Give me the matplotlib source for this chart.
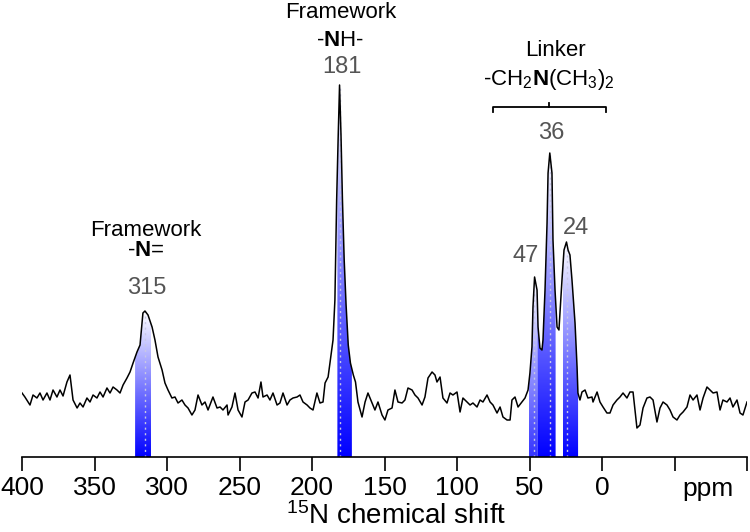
import numpy as np
import matplotlib
matplotlib.use("Agg")
import matplotlib.pyplot as plt
from matplotlib.patches import Polygon
from matplotlib.colors import LinearSegmentedColormap

plt.rcParams["font.family"] = ["Liberation Sans", "DejaVu Sans"]
plt.rcParams["mathtext.fontset"] = "custom"
plt.rcParams["mathtext.rm"] = "Liberation Sans"
plt.rcParams["mathtext.bf"] = "Liberation Sans:bold"
plt.rcParams["mathtext.it"] = "Liberation Sans:italic"

# 15N spectrum (ppm, arbitrary intensity)
shift = [
    400, 398, 394.5, 392.4, 389.7, 387.6, 385.5, 382.8, 380.7, 378.6,
    375.9, 373.8, 371.7, 369, 366.9, 364.8, 362, 360, 357.9, 355.2,
    353.1, 351, 348.3, 346.2, 344.1, 341.4, 339.3, 337.2, 334.5, 332.4,
    330.3, 327.6, 325.5, 323.4, 320.7, 318.6, 316.6, 315.2, 313.1, 310.3,
    308.3, 306.2, 303.4, 301.4, 299.3, 296.6, 294.5, 292.4, 289.7, 287.6,
    285.5, 282.8, 280.7, 278.6, 275.9, 273.8, 271.7, 268.3, 265.5, 263.4,
    261.4, 258.6, 257.9, 255.2, 253.1, 251, 248.3, 246.2, 244.1, 241.4,
    239.3, 237.2, 235.2, 233.8, 231, 229, 226.9, 224.1, 222.1, 220,
    217.2, 215.2, 213.1, 210.3, 208.3, 206.2, 203.4, 201.4, 199.3, 196.6,
    194.5, 192.4, 191, 188.9, 187.6, 185.5, 184.2, 183, 182, 181,
    180, 179, 177.8, 176.5, 175, 173.5, 171.5, 170, 168.3, 165.5,
    163.4, 161.4, 158.6, 156.6, 154.5, 151.7, 149.7, 147.6, 144.8, 142.8,
    140.7, 137.9, 135.9, 133.8, 131, 129, 126.9, 124.1, 122.1, 120,
    117.2, 115.2, 113.8, 111.7, 109.7, 106.9, 104.8, 102.8, 100, 97.9,
    95.9, 93.1, 91, 89, 86.2, 84.1, 82.1, 79.3, 77.2, 75.2,
    72.4, 70.3, 68.3, 65.5, 63.4, 62.1, 60, 57.9, 55.2, 53.1,
    51, 49.7, 48.3, 47.6, 46.5, 44.8, 44.1, 42.8, 41.4, 40.7,
    39.3, 37.9, 37.2, 36, 34.5, 33.8, 32.4, 31, 29.7, 27.6,
    26.2, 24.5, 23.4, 22.1, 20.7, 18.6, 17.2, 16.6, 15.2, 13.8,
    11.7, 9.7, 6.9, 6.2, 3.4, 1.4, -0.7, -3.4, -5.5, -7.6,
    -10.3, -12.4, -14.5, -17.2, -19.3, -21.4, -24.1, -26.2, -28.3, -31,
    -33.1, -35.2, -37.9, -40, -42.1, -44.8, -46.9, -49, -51.7, -53.8,
    -55.9, -58.6, -60.7, -62.8, -65.5, -67.6, -69.7, -72.4, -74.5, -76.6,
    -79.3, -81.4, -83.4, -86.2, -88.3, -90.3, -93.1, -95.2, -97.2, -100,
]
intensity = [
    7, 3, -5, 5, 2, 7, 0, 7, 0, 10,
    3, 10, 4, 18, 25, 0, -8, -3, -7, 2,
    -2, 5, 2, 8, 3, 12, 7, 13, 10, 7,
    15, 22, 28, 37, 48, 55, 87, 89, 85, 73,
    60, 43, 30, 17, 10, 2, 3, -3, 0, -5,
    -8, -15, -10, 5, -5, -2, -10, 3, -8, -7,
    -10, -5, -15, -7, 7, -10, -17, -2, 0, 7,
    8, 2, 18, 3, 5, 0, 7, -5, -3, 7,
    -5, 0, 2, 3, 5, -2, -5, -8, -10, 7,
    -3, -2, 17, 23, 37, 60, 100, 200, 260, 315,
    265, 200, 140, 95, 55, 37, 25, 18, -2, -17,
    -2, 7, -3, -10, -2, -15, -20, -10, -8, 10,
    -2, -3, 0, 12, 10, 5, 2, -5, 3, 22,
    28, 25, 18, 23, 2, -3, 7, 5, 8, -12,
    2, -2, -5, -3, -7, 0, -2, 5, -2, -5,
    -13, -7, -17, -20, -20, 0, 3, -7, -2, 2,
    10, 27, 53, 93, 123, 110, 73, 52, 50, 60,
    110, 177, 227, 247, 227, 160, 110, 73, 70, 120,
    150, 158, 150, 145, 120, 77, 33, 7, 0, 8,
    10, 2, 3, -2, 8, -2, -7, -13, -13, -5,
    0, 3, 7, 2, 8, 8, -28, -25, -8, 2,
    3, 0, -22, -8, -2, -5, -10, -17, -20, -15,
    -12, -7, 5, 0, 5, -10, 2, 13, 10, 7,
    8, -10, 0, -2, 2, -7, 0, -13, -15, -2,
]

# highlighted bands (ppm low, ppm high) and peak positions
band_lo = [311, 172.5, 44.5, 32, 16.5]
band_hi = [322, 182.5, 50.5, 44.5, 27]
band_alpha = [1.0, 1.0, 0.8, 1.0, 1.0]
peaks = [315, 181, 47, 36, 24]

tick_values = [400, 350, 300, 250, 200, 150, 100, 50, 0, -50, -100]
tick_labels = ["400", "350", "300", "250", "200", "150", "100", "50", "0", "", ""]

x = np.array(shift, dtype=float)
y = np.array(intensity, dtype=float)
ybot = -57

fig = plt.figure(figsize=(7.5, 5.32), dpi=100)
ax = fig.add_axes([22 / 750, 1 - 457 / 532, 725 / 750, 457 / 532])

cmap = LinearSegmentedColormap.from_list("bw", ["#0000ff", "#ffffff"])
grad = np.linspace(0, 1, 256).reshape(-1, 1)


def curve_at(p):
    return np.interp(p, x[::-1], y[::-1])


for lo, hi, a in zip(band_lo, band_hi, band_alpha):
    m = (x > lo) & (x < hi)
    xs = np.concatenate([[hi], x[m], [lo]])
    ys = np.concatenate([[curve_at(hi)], y[m], [curve_at(lo)]])
    verts = [(hi, ybot)] + list(zip(xs, ys)) + [(lo, ybot)]
    poly = Polygon(verts, closed=True, facecolor="none", edgecolor="none")
    ax.add_patch(poly)
    im = ax.imshow(grad, cmap=cmap, origin="lower", aspect="auto",
                   extent=[hi, lo, ybot, ys.max()], alpha=a, zorder=1)
    im.set_clip_path(poly)

for p in peaks:
    ax.plot([p, p], [ybot, curve_at(p)], color="#c8c8e4", lw=1.0,
            ls=(0, (1.5, 2.5)), zorder=2)

ax.plot(x, y, color="black", lw=1.1, zorder=3)

ax.set_xlim(400, -100)
ax.set_ylim(ybot, 400)
for s in ["left", "right", "top"]:
    ax.spines[s].set_visible(False)
ax.spines["bottom"].set_linewidth(1.2)
ax.set_yticks([])
ax.set_xticks(tick_values)
ax.set_xticklabels(tick_labels)
ax.tick_params(axis="x", direction="out", length=10, width=1.2,
               labelsize=19, pad=4)

tr = ax.get_xaxis_transform()
ax.text(-73, -0.07, "ppm", transform=tr, fontsize=19, ha="center", va="center")
fig.text(0.528, 0.004, "$^{15}$N chemical shift", fontsize=20,
         ha="center", va="bottom")

# peak annotations
ax.text(314.5, 170, "Framework", fontsize=16, ha="center", va="center")
ax.text(314.5, 149, "-$\\mathbf{N}$=", fontsize=16, ha="center", va="center")
ax.text(314, 112, "315", fontsize=17, color="#555555", ha="center", va="center")

ax.text(180, 398, "Framework", fontsize=16, ha="center", va="top")
ax.text(180.7, 360, "-$\\mathbf{N}$H-", fontsize=16, ha="center", va="center")
ax.text(179.3, 333, "181", fontsize=17, color="#555555", ha="center", va="center")

ax.text(32.4, 350, "Linker", fontsize=16, ha="center", va="center")
ax.text(36.6, 320, "-CH$_2$$\\mathbf{N}$(CH$_3$)$_2$", fontsize=16,
        ha="center", va="center")
ax.plot([75, 75, -3, -3], [288, 293, 293, 288], color="black", lw=1.3)
ax.plot([36.6, 36.6], [293, 297], color="black", lw=1.3)
ax.text(35.2, 267, "36", fontsize=17, color="#555555", ha="center", va="center")
ax.text(17.9, 172, "24", fontsize=17, color="#555555", ha="center", va="center")
ax.text(52.4, 144, "47", fontsize=17, color="#555555", ha="center", va="center")

fig.savefig("out.png", dpi=100)
